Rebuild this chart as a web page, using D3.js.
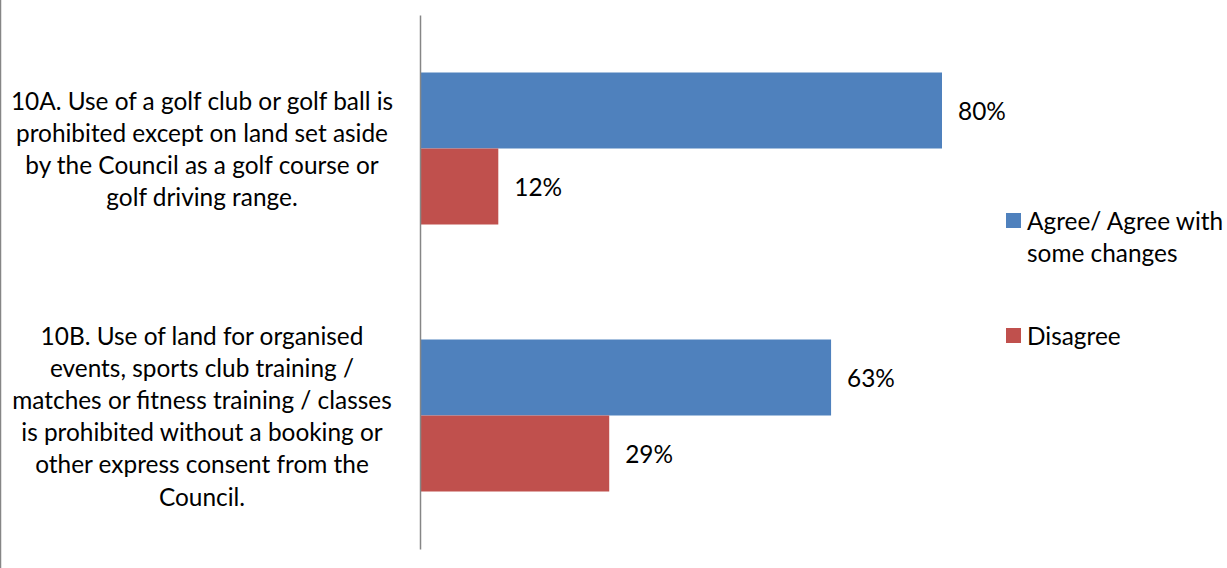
<!DOCTYPE html>
<html><head><meta charset="utf-8">
<script src="https://cdn.jsdelivr.net/npm/d3@7"></script>
<style>html,body{margin:0;padding:0;background:#fff;}svg{display:block;}</style>
</head><body>
<svg id="chart" width="1227" height="568"></svg>
<script>
const categories = ["10A", "10B"];
const categoryLabels = [
  ["10A. Use of a golf club or golf ball is", "prohibited except on land set aside", "by the Council as a golf course or", "golf driving range."],
  ["10B. Use of land for organised", "events, sports club training /", "matches or fitness training / classes", "is prohibited without a booking or", "other express consent from the", "Council."]
];
const seriesNames = ["Agree/ Agree with some changes", "Disagree"];
const legendLines = [["Agree/ Agree with", "some changes"], ["Disagree"]];
const agreeValues = [80, 63];
const disagreeValues = [12, 29];
const colors = ["#4F81BD", "#C0504D"];

const svg = d3.select("#chart");
const font = "Lato, 'Open Sans', sans-serif";
const fs = 24.4;

const x0 = 420;
const x = d3.scaleLinear().domain([0, 80]).range([x0, 942]);
const y = d3.scaleBand().domain(categories).range([15, 549]).padding(0);
const barH = 76;
const sub = d3.scaleBand().domain(seriesNames).range([0, barH * 2]);

// left border
svg.append("line").attr("x1", 0.5).attr("x2", 0.5).attr("y1", 0).attr("y2", 568)
  .attr("stroke", "#868686").attr("stroke-width", 1.5);

const series = [agreeValues, disagreeValues];
categories.forEach((c, ci) => {
  const top = y(c) + y.bandwidth() / 2 - barH;
  series.forEach((vals, si) => {
    const v = vals[ci];
    const by = top + sub(seriesNames[si]);
    svg.append("rect").attr("x", x(0)).attr("y", by)
      .attr("width", x(v) - x(0)).attr("height", sub.bandwidth())
      .attr("fill", colors[si]);
    svg.append("text").attr("x", x(v) + 16).attr("y", by + sub.bandwidth() / 2)
      .attr("dominant-baseline", "central")
      .attr("font-family", font).attr("font-size", fs).attr("fill", "#000")
      .text(v + "%");
  });
  // category label
  const lines = categoryLabels[ci];
  const lh = 32.2;
  const cy = y(c) + y.bandwidth() / 2;
  const t = svg.append("text").attr("text-anchor", "middle")
    .attr("font-family", font).attr("font-size", fs).attr("fill", "#000");
  lines.forEach((ln, li) => {
    t.append("tspan").attr("x", 202)
      .attr("y", cy + (li - (lines.length - 1) / 2) * lh)
      .attr("dominant-baseline", "central").text(ln);
  });
});

// axis line
const yAxis = d3.axisLeft(y).tickSize(0).tickFormat("");
const ag = svg.append("g").attr("transform", `translate(${x0},0)`).call(yAxis);
ag.select(".domain").attr("stroke", "#868686").attr("stroke-width", 1.5);

// legend
const legendY = [220.5, 335.5];
legendLines.forEach((lines, i) => {
  svg.append("rect").attr("x", 1006).attr("y", legendY[i] - 7.5)
    .attr("width", 15).attr("height", 15).attr("fill", colors[i]);
  const t = svg.append("text").attr("font-family", font).attr("font-size", fs).attr("fill", "#000");
  lines.forEach((ln, li) => {
    t.append("tspan").attr("x", 1027).attr("y", legendY[i] + li * 32)
      .attr("dominant-baseline", "central").text(ln);
  });
});
</script>
</body></html>
